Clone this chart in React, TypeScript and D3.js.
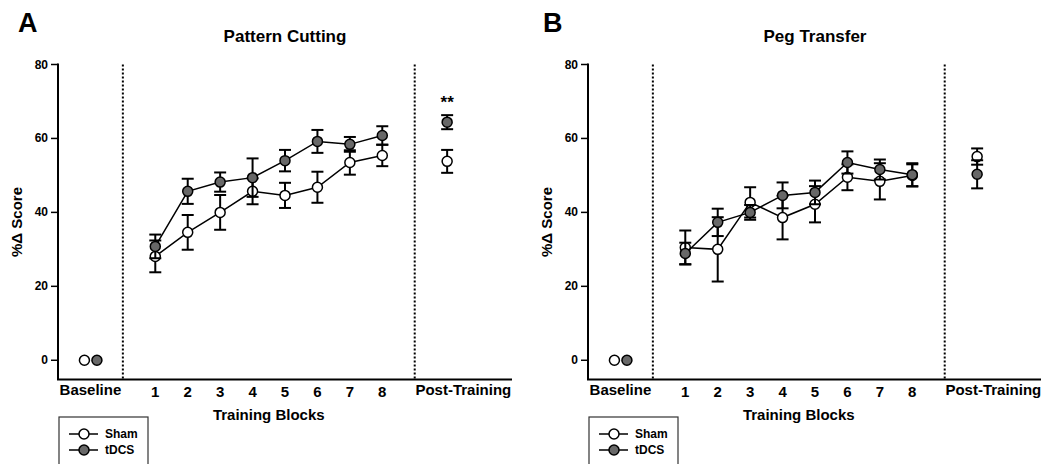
import React from 'react';
import * as d3 from 'd3';

// x positions: baseline at -1, training blocks 1..8, post-training at 10
const blocks = [1, 2, 3, 4, 5, 6, 7, 8];
const yTicks = [0, 20, 40, 60, 80];
const seriesNames = ['Sham', 'tDCS'];

// Pattern Cutting
const cuttingShamMean = [28.1, 34.6, 40.0, 45.7, 44.6, 46.8, 53.5, 55.4];
const cuttingShamSem = [4.3, 4.7, 4.7, 3.5, 3.4, 4.2, 3.3, 2.9];
const cuttingTdcsMean = [30.8, 45.7, 48.2, 49.4, 54.0, 59.2, 58.4, 60.8];
const cuttingTdcsSem = [3.2, 3.4, 2.6, 5.2, 2.9, 3.1, 2.0, 2.5];
const cuttingPostMean = [53.8, 64.4];
const cuttingPostSem = [3.1, 1.9];

// Peg Transfer
const pegShamMean = [30.5, 30.0, 42.7, 38.6, 42.2, 49.5, 48.4, 50.0];
const pegShamSem = [4.6, 8.7, 4.1, 5.9, 4.9, 3.5, 4.9, 3.0];
const pegTdcsMean = [28.9, 37.3, 40.0, 44.6, 45.4, 53.5, 51.6, 50.2];
const pegTdcsSem = [2.9, 3.7, 2.0, 3.5, 3.2, 3.0, 2.7, 3.1];
const pegPostMean = [55.1, 50.3];
const pegPostSem = [2.2, 3.8];

const FONT = '"Liberation Sans", Arial, Helvetica, sans-serif';
const GREY = '#686868';
const fills = ['#ffffff', GREY];

type PanelProps = {
  x0: number;
  letter: string;
  letterX: number;
  title: string;
  means: number[][];
  sems: number[][];
  postMean: number[];
  postSem: number[];
  stars?: string;
};

const Panel = ({ x0, letter, letterX, title, means, sems, postMean, postSem, stars }: PanelProps) => {
  const x = d3.scaleLinear().domain([-2, 12]).range([x0, x0 + 454]);
  const y = d3.scaleLinear().domain([-5.2, 80]).range([379.5, 64.5]);
  const line = d3.line<number>()
    .x((_, i) => x(blocks[i]))
    .y(d => y(d));
  const cap = 6;
  const r = 5;

  const errBar = (cx: number, m: number, s: number, key: string) => (
    <g key={key} stroke="#000" strokeWidth={2}>
      <line x1={cx} x2={cx} y1={y(m + s)} y2={y(m - s)} />
      <line x1={cx - cap} x2={cx + cap} y1={y(m + s)} y2={y(m + s)} />
      <line x1={cx - cap} x2={cx + cap} y1={y(m - s)} y2={y(m - s)} />
    </g>
  );

  return (
    <g fontFamily={FONT} fontWeight="bold">
      <text x={letterX} y={32} fontSize={27}>{letter}</text>
      <text x={x0 + 227} y={42} fontSize={17} textAnchor="middle">{title}</text>

      {/* y axis */}
      <line x1={x0} x2={x0} y1={y(80) - 1} y2={y.range()[0]} stroke="#000" strokeWidth={2} />
      {yTicks.map(t => (
        <g key={t}>
          <line x1={x0 - 7} x2={x0} y1={y(t)} y2={y(t)} stroke="#000" strokeWidth={1.5} />
          <text x={x0 - 10} y={y(t) + 4} fontSize={12} textAnchor="end">{t}</text>
        </g>
      ))}
      <text transform={`translate(${x0 - 36},222) rotate(-90)`} fontSize={15} textAnchor="middle">%Δ Score</text>

      {/* x axis */}
      <line x1={x0 - 1} x2={x(12)} y1={y.range()[0]} y2={y.range()[0]} stroke="#000" strokeWidth={2} />
      <text x={x(-1)} y={395} fontSize={15} textAnchor="middle">Baseline</text>
      {blocks.map(b => (
        <text key={b} x={x(b)} y={397} fontSize={15} textAnchor="middle">{b}</text>
      ))}
      <text x={x(10.5)} y={395} fontSize={15} textAnchor="middle">Post-Training</text>
      <text x={x(4.5)} y={420} fontSize={15} textAnchor="middle">Training Blocks</text>

      {/* dividers */}
      {[0, 9].map(d => (
        <line key={d} x1={x(d)} x2={x(d)} y1={y(80)} y2={y.range()[0]}
          stroke="#000" strokeWidth={2} strokeDasharray="2,2" />
      ))}

      {/* series */}
      {means.map((m, si) => (
        <g key={si}>
          <path d={line(m) || ''} fill="none" stroke="#000" strokeWidth={1.5} />
          {m.map((v, i) => errBar(x(blocks[i]), v, sems[si][i], `e${i}`))}
          {errBar(x(10), postMean[si], postSem[si], 'post')}
          {m.map((v, i) => (
            <circle key={i} cx={x(blocks[i])} cy={y(v)} r={r} fill={fills[si]} stroke="#000" strokeWidth={1.5} />
          ))}
          <circle cx={x(10)} cy={y(postMean[si])} r={r} fill={fills[si]} stroke="#000" strokeWidth={1.5} />
          <circle cx={x(-1) + (si === 0 ? -6 : 6.5)} cy={y(0)} r={r} fill={fills[si]} stroke="#000" strokeWidth={1.5} />
        </g>
      ))}

      {stars && <text x={x(10)} y={108} fontSize={17} textAnchor="middle">{stars}</text>}

      {/* legend */}
      <rect x={x0 + 1} y={417} width={89} height={60} fill="none" stroke="#333" strokeWidth={1.2} />
      {seriesNames.map((n, i) => (
        <g key={n}>
          <line x1={x0 + 11} x2={x0 + 40} y1={434 + i * 16} y2={434 + i * 16} stroke="#000" strokeWidth={1.5} />
          <circle cx={x0 + 26} cy={434 + i * 16} r={5} fill={fills[i]} stroke="#000" strokeWidth={1.5} />
          <text x={x0 + 47} y={438 + i * 16} fontSize={12}>{n}</text>
        </g>
      ))}
    </g>
  );
};

const App = () => (
  <svg width={1041} height={464} style={{ position: 'absolute', left: 0, top: 0, background: '#fff' }}>
    <rect width={1041} height={464} fill="#fff" />
    <Panel x0={58} letter="A" letterX={18} title="Pattern Cutting"
      means={[cuttingShamMean, cuttingTdcsMean]} sems={[cuttingShamSem, cuttingTdcsSem]}
      postMean={cuttingPostMean} postSem={cuttingPostSem} stars="**" />
    <Panel x0={588} letter="B" letterX={543} title="Peg Transfer"
      means={[pegShamMean, pegTdcsMean]} sems={[pegShamSem, pegTdcsSem]}
      postMean={pegPostMean} postSem={pegPostSem} />
  </svg>
);

export default App;
